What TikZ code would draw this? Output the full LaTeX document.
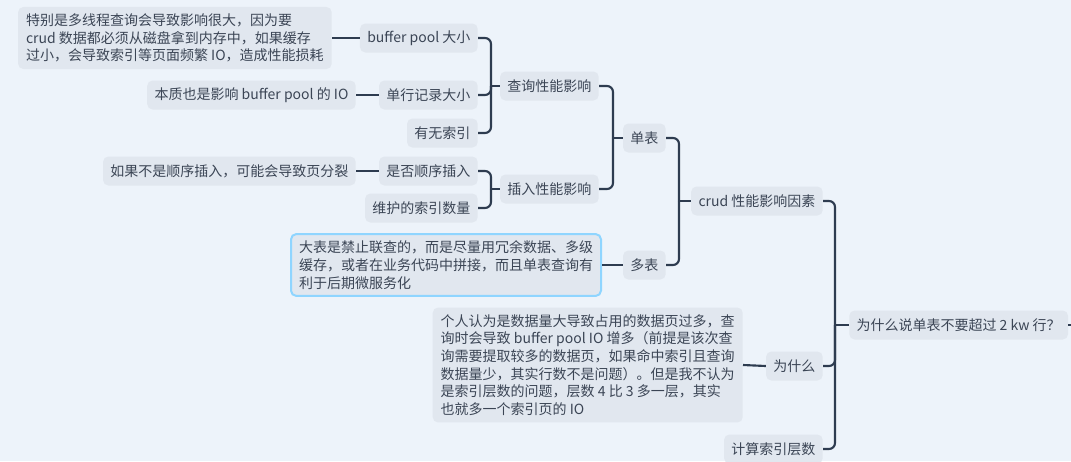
\documentclass[tikz,border=0pt]{standalone}
\usepackage{fontspec}
\setmainfont{Noto Sans CJK SC}
\definecolor{bgcol}{HTML}{EDF3FA}
\definecolor{boxcol}{HTML}{E1E7EF}
\definecolor{txtcol}{HTML}{3B4555}
\definecolor{linecol}{HTML}{2E3C50}
\definecolor{selcol}{HTML}{8FD5FF}
\begin{document}
\begin{tikzpicture}[x=0.75pt,y=-0.75pt,
		topic/.style={fill=boxcol,text=txtcol,rounded corners=4pt,inner xsep=5.5pt,minimum height=21.75pt,font=\fontsize{10.5}{13.3}\selectfont},
		note/.style={topic,align=left,inner xsep=6pt,inner ysep=5pt},
		branch/.style={draw=linecol,line width=1.6pt,rounded corners=4.5pt}]
			\fill[bgcol] (0,0) rectangle (1071,461);
			\useasboundingbox (0,0) rectangle (1071,461);
			% topics
			\node[topic,anchor=west] (root) at (849,325) {为什么说单表不要超过 2 kw 行？};
			\node[topic,anchor=east] (crud) at (823,201) {crud 性能影响因素};
			\node[topic,anchor=east] (whyq) at (823,366) {为什么};
			\node[topic,anchor=east] (calc) at (823,449) {计算索引层数};
			\node[topic,anchor=east] (single) at (666,138) {单表};
			\node[topic,anchor=east] (multi) at (666,265) {多表};
			\node[topic,anchor=east] (query) at (599,86) {查询性能影响};
			\node[topic,anchor=east] (insert) at (599,189) {插入性能影响};
			\node[topic,anchor=east] (bpsize) at (478,38) {buffer pool 大小};
			\node[topic,anchor=east] (rowsize) at (478,95) {单行记录大小};
			\node[topic,anchor=east] (hasidx) at (478,133) {有无索引};
			\node[topic,anchor=east] (seqins) at (478,171) {是否顺序插入};
			\node[topic,anchor=east] (idxnum) at (478,208) {维护的索引数量};
			% notes
			\node[note,anchor=east] (bpnote) at (332,38) {特别是多线程查询会导致影响很大，因为要\\crud 数据都必须从磁盘拿到内存中，如果缓存\\过小，会导致索引等页面频繁 IO，造成性能损耗};
			\node[topic,anchor=east] (rownote) at (356,95) {本质也是影响 buffer pool 的 IO};
			\node[topic,anchor=east] (seqnote) at (356,171) {如果不是顺序插入，可能会导致页分裂};
			\node[note,anchor=east,draw=selcol,line width=1.5pt] (multinote) at (602,265) {大表是禁止联查的，而是尽量用冗余数据、多级\\缓存，或者在业务代码中拼接，而且单表查询有\\利于后期微服务化};
			\node[note,anchor=east] (whynote) at (743,365) {个人认为是数据量大导致占用的数据页过多，查\\询时会导致 buffer pool IO 增多（前提是该次查\\询需要提取较多的数据页，如果命中索引且查询\\数据量少，其实行数不是问题）。但是我不认为\\是索引层数的问题，层数 4 比 3 多一层，其实\\也就多一个索引页的 IO};
			% junctions
			\coordinate (jroot) at (835,325);
			\coordinate (jcrud) at (679,201);
			\coordinate (jsingle) at (613,138);
			\coordinate (jquery) at (491,86);
			\coordinate (jinsert) at (491,189);
			\coordinate (rootout) at (1071,325);
			\draw[branch] (root.east) -- (rootout);
			\draw[branch] (root.west) -- (jroot);
			\foreach \c in {crud,whyq,calc}
				\draw[branch] (jroot) |- (\c.east);
			\draw[branch] (crud.west) -- (jcrud);
			\foreach \c in {single,multi}
				\draw[branch] (jcrud) |- (\c.east);
			\draw[branch] (single.west) -- (jsingle);
			\foreach \c in {query,insert}
				\draw[branch] (jsingle) |- (\c.east);
			\draw[branch] (query.west) -- (jquery);
			\foreach \c in {bpsize,rowsize,hasidx}
				\draw[branch] (jquery) |- (\c.east);
			\draw[branch] (insert.west) -- (jinsert);
			\foreach \c in {seqins,idxnum}
				\draw[branch] (jinsert) |- (\c.east);
			\draw[branch] (bpsize.west) -- (bpnote.east);
			\draw[branch] (rowsize.west) -- (rownote.east);
			\draw[branch] (seqins.west) -- (seqnote.east);
			\draw[branch] (multi.west) -- (multinote.east);
			\draw[branch] (whyq.west) -- (whynote.east);
\end{tikzpicture}
\end{document}
